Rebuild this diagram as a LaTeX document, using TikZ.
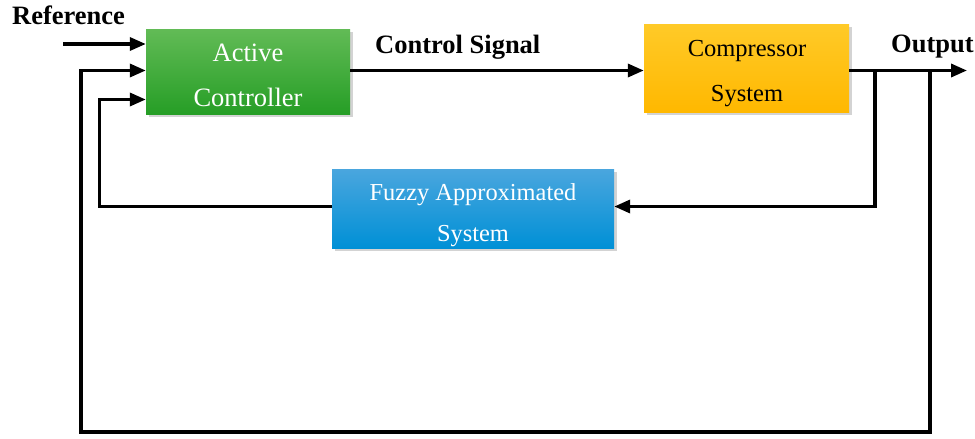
\documentclass[tikz,border=0pt]{standalone}
\usepackage{fontspec}
\setmainfont{Liberation Serif}
\usetikzlibrary{arrows.meta,shadows,calc}
\definecolor{gtop}{RGB}{98,187,86}
\definecolor{gbot}{RGB}{38,158,38}
\definecolor{otop}{RGB}{255,202,40}
\definecolor{obot}{RGB}{255,184,0}
\definecolor{btop}{RGB}{74,166,222}
\definecolor{bbot}{RGB}{0,144,214}
\tikzset{
  blk/.style={draw=none, inner sep=0pt,
    drop shadow={opacity=0.35, shadow xshift=2.5pt, shadow yshift=-3pt}},
  btxt/.style={inner sep=0pt, anchor=base},
  wire/.style={line width=3.4pt, line join=miter},
  arr/.style={wire, -{Triangle[length=16pt,width=13pt]}},
  lbl/.style={font=\fontsize{26.5}{30}\selectfont\bfseries, inner sep=0pt, anchor=base west}
}
\begin{document}
\begin{tikzpicture}[x=1pt,y=-1pt]
\useasboundingbox (0,0) rectangle (975,439);
% boxes
\node[blk, minimum width=204pt, minimum height=85pt, top color=gtop, bottom color=gbot] (act) at (248,71.5) {};
\node[blk, minimum width=205pt, minimum height=88pt, top color=otop, bottom color=obot] (comp) at (746.5,68) {};
\node[blk, minimum width=282pt, minimum height=79pt, top color=btop, bottom color=bbot] (fuz) at (473,208.5) {};
% box texts
\node[btxt, text=white, font=\fontsize{26.5}{30}\selectfont] (act1) at (248,61) {Active};
\node[btxt, text=white, font=\fontsize{26.5}{30}\selectfont] (act2) at (248,106.7) {Controller};
\node[btxt, text=black, font=\fontsize{24.5}{30}\selectfont] (comp1) at (747,56) {Compressor};
\node[btxt, text=black, font=\fontsize{24.5}{30}\selectfont] (comp2) at (747,101.7) {System};
\node[btxt, text=white, font=\fontsize{24.4}{30}\selectfont] (fuz1) at (473,200) {Fuzzy Approximated};
\node[btxt, text=white, font=\fontsize{24.4}{30}\selectfont] (fuz2) at (473,241) {System};
% labels
\node[lbl] (reflbl) at (12,24) {Reference};
\node[lbl] (ctllbl) at (375,53) {Control Signal};
\node[lbl] (outlbl) at (891,52) {Output};
% coordinates
\coordinate (refin) at (63,44);
\coordinate (row2) at (0,70.5);
\coordinate (row3) at (0,99.5);
\coordinate (fb) at (0,206.5);
\coordinate (out) at (967,70.5);
\coordinate (br1) at (875,70.5);
\coordinate (br2) at (930,70.5);
\coordinate (c3) at (99.5,206.5);
\coordinate (c2) at (81,432);
\coordinate (c2b) at (930,432);
% connectors
\draw[arr] (refin) -- (act.west |- refin);
\draw[arr] (act.east |- row2) -- (comp.west |- row2);
\draw[arr] (comp.east |- row2) -- (out);
\draw[arr] (br1) |- (fuz.east |- fb);
\draw[arr] (fuz.west |- fb) -- (c3) |- (act.west |- row3);
\draw[arr] (br2) -- (c2b) -- (c2) |- (act.west |- row2);
\end{tikzpicture}
\end{document}
